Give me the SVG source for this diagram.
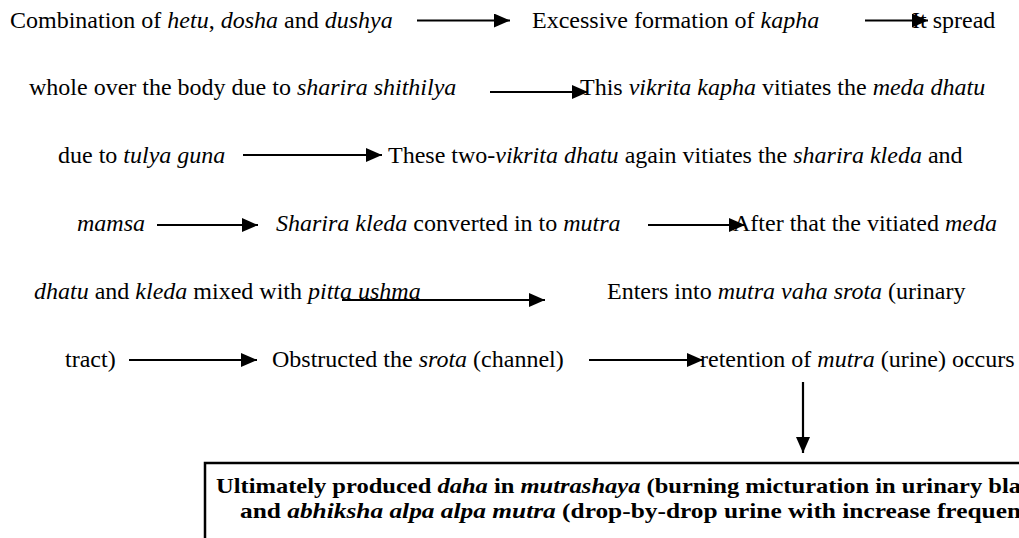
<svg xmlns="http://www.w3.org/2000/svg" width="1019" height="538" viewBox="0 0 1019 538">
<style>
.t{font-family:"Liberation Serif","Times New Roman",serif;font-size:24px;fill:#000}
.i{font-style:italic}
.b{font-family:"Liberation Serif","Times New Roman",serif;font-size:22px;font-weight:bold;fill:#000}
.c{stroke:#000;stroke-width:2.2;fill:none;marker-end:url(#ah)}
.box{fill:#fff;stroke:#000;stroke-width:2.5}
</style>
<defs>
<marker id="ah" markerUnits="userSpaceOnUse" markerWidth="16" markerHeight="14" refX="16" refY="7" orient="auto">
<path d="M0,0 L16,7 L0,14 z" fill="#000"/>
</marker>
</defs>
<rect width="1019" height="538" fill="#fff"/>
<g id="n1"><text class="t" x="10" y="28">Combination of <tspan class="i">hetu</tspan>, <tspan class="i">dosha</tspan> and <tspan class="i">dushya</tspan></text></g>
<g id="n2"><text class="t" x="532" y="28">Excessive formation of <tspan class="i">kapha</tspan></text></g>
<g id="n3"><text class="t" x="912" y="28">It spread</text><text class="t" x="29" y="95">whole over the body due to <tspan class="i">sharira shithilya</tspan></text></g>
<g id="n4"><text class="t" x="580" y="95">This <tspan class="i">vikrita kapha</tspan> vitiates the <tspan class="i">meda dhatu</tspan></text><text class="t" x="58" y="163">due to <tspan class="i">tulya guna</tspan></text></g>
<g id="n5"><text class="t" x="388" y="163">These two-<tspan class="i">vikrita dhatu</tspan> again vitiates the <tspan class="i">sharira kleda</tspan> and</text><text class="t i" x="77" y="231">mamsa</text></g>
<g id="n6"><text class="t" x="276" y="231"><tspan class="i">Sharira kleda</tspan> converted in to <tspan class="i">mutra</tspan></text></g>
<g id="n7"><text class="t" x="733" y="231">After that the vitiated <tspan class="i">meda</tspan></text><text class="t" x="34" y="299"><tspan class="i">dhatu</tspan> and <tspan class="i">kleda</tspan> mixed with <tspan class="i">pitta ushma</tspan></text></g>
<g id="n8"><text class="t" x="607" y="299">Enters into <tspan class="i">mutra vaha srota</tspan> (urinary</text><text class="t" x="65" y="367">tract)</text></g>
<g id="n9"><text class="t" x="272" y="367">Obstructed the <tspan class="i">srota</tspan> (channel)</text></g>
<g id="n10"><text class="t" x="700" y="367">retention of <tspan class="i">mutra</tspan> (urine) occurs</text></g>
<g id="n11"><rect class="box" x="205" y="463" width="840" height="110"/>
<text class="b" x="216" y="493" textLength="805" lengthAdjust="spacingAndGlyphs">Ultimately produced <tspan class="i">daha</tspan> in <tspan class="i">mutrashaya</tspan> (burning micturation in urinary bla</text>
<text class="b" x="240" y="517.5" textLength="781" lengthAdjust="spacingAndGlyphs">and <tspan class="i">abhiksha alpa alpa mutra</tspan> (drop-by-drop urine with increase frequen</text></g>
<g id="connectors">
<line class="c" x1="417" y1="20.5" x2="510" y2="20.5"/>
<line class="c" x1="865" y1="20.5" x2="928" y2="20.5"/>
<line class="c" x1="490" y1="92" x2="588" y2="92"/>
<line class="c" x1="243" y1="155" x2="382" y2="155"/>
<line class="c" x1="157" y1="225" x2="258" y2="225"/>
<line class="c" x1="648" y1="225" x2="745" y2="225"/>
<line class="c" x1="342" y1="300" x2="545" y2="300"/>
<line class="c" x1="129" y1="360" x2="257" y2="360"/>
<line class="c" x1="589" y1="360" x2="703" y2="360"/>
<line class="c" x1="803" y1="382" x2="803" y2="453"/>
</g>
</svg>
